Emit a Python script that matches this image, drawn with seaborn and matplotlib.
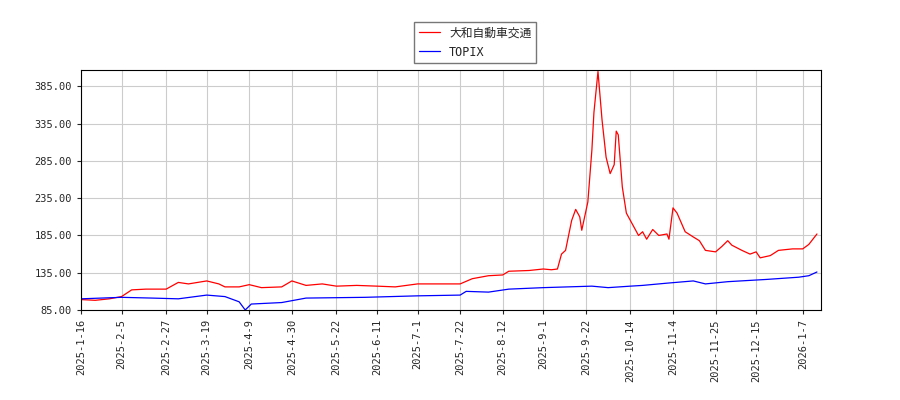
import pandas as pd
import matplotlib
matplotlib.use('Agg')
import matplotlib.pyplot as plt
import seaborn as sns

# 大和自動車交通
red_dates = ['2025-01-16', '2025-01-23', '2025-01-30', '2025-02-05', '2025-02-10', '2025-02-17',
             '2025-02-27', '2025-03-05', '2025-03-10', '2025-03-19', '2025-03-25', '2025-03-28',
             '2025-04-04', '2025-04-09', '2025-04-15', '2025-04-25', '2025-04-30', '2025-05-07',
             '2025-05-15', '2025-05-22', '2025-06-01', '2025-06-11', '2025-06-20', '2025-07-01',
             '2025-07-10', '2025-07-22', '2025-07-28', '2025-08-05', '2025-08-12', '2025-08-15',
             '2025-08-25', '2025-09-01', '2025-09-05', '2025-09-08', '2025-09-10', '2025-09-12',
             '2025-09-15', '2025-09-17', '2025-09-19', '2025-09-20', '2025-09-23', '2025-09-25',
             '2025-09-26', '2025-09-28', '2025-09-30', '2025-10-02', '2025-10-04', '2025-10-06',
             '2025-10-07', '2025-10-08', '2025-10-10', '2025-10-12', '2025-10-15', '2025-10-18',
             '2025-10-20', '2025-10-22', '2025-10-25', '2025-10-28', '2025-11-01', '2025-11-02',
             '2025-11-04', '2025-11-06', '2025-11-10', '2025-11-14', '2025-11-17', '2025-11-20',
             '2025-11-25', '2025-11-28', '2025-12-01', '2025-12-03', '2025-12-08', '2025-12-12',
             '2025-12-15', '2025-12-17', '2025-12-22', '2025-12-26', '2026-01-02', '2026-01-07',
             '2026-01-10', '2026-01-14']
red_values = [99, 98, 100, 103, 112, 113, 113, 122, 120, 124, 120, 116, 116, 119, 115, 116, 124, 118,
              120, 117, 118, 117, 116, 120, 120, 120, 127, 131, 132, 137, 138, 140, 139, 140, 160, 165,
              205, 220, 210, 192, 230, 300, 350, 405, 340, 290, 268, 280, 325, 320, 250, 215, 200, 185,
              190, 180, 193, 185, 187, 180, 222, 215, 190, 183, 178, 165, 163, 170, 178, 172, 165, 160,
              163, 155, 158, 165, 167, 167, 173, 187]

# TOPIX
blue_dates = ['2025-01-16', '2025-02-05', '2025-02-20', '2025-03-05', '2025-03-19', '2025-03-28',
              '2025-04-04', '2025-04-07', '2025-04-10', '2025-04-25', '2025-05-07', '2025-06-05',
              '2025-07-01', '2025-07-22', '2025-07-25', '2025-08-05', '2025-08-15', '2025-09-01',
              '2025-09-25', '2025-10-03', '2025-10-14', '2025-10-20', '2025-11-01', '2025-11-14',
              '2025-11-20', '2025-12-01', '2025-12-20', '2026-01-05', '2026-01-10', '2026-01-14']
blue_values = [100, 102, 101, 100, 105, 103, 96, 85, 93, 95, 101, 102, 104, 105, 110, 109, 113, 115,
               117, 115, 117, 118, 121, 124, 120, 123, 126, 129, 131, 136]

tick_labels = ['2025-1-16', '2025-2-5', '2025-2-27', '2025-3-19', '2025-4-9', '2025-4-30', '2025-5-22',
               '2025-6-11', '2025-7-1', '2025-7-22', '2025-8-12', '2025-9-1', '2025-9-22', '2025-10-14',
               '2025-11-4', '2025-11-25', '2025-12-15', '2026-1-7']

red = pd.DataFrame({'date': pd.to_datetime(red_dates), 'value': red_values})
blue = pd.DataFrame({'date': pd.to_datetime(blue_dates), 'value': blue_values})

sns.set_style('white')
plt.rcParams['font.family'] = ['DejaVu Sans Mono', 'Noto Sans CJK JP']

fig = plt.figure(figsize=(9, 4), dpi=100)
ax = fig.add_axes([81 / 900, 90 / 400, 740 / 900, 240 / 400])
sns.lineplot(data=red, x='date', y='value', color='red', linewidth=0.9, label='大和自動車交通', ax=ax)
sns.lineplot(data=blue, x='date', y='value', color='blue', linewidth=0.9, label='TOPIX', ax=ax)

ticks = pd.to_datetime(tick_labels)
ax.set_xticks(ticks)
ax.set_xticklabels(tick_labels, rotation=90, fontsize=7.5)
ax.set_xlim(pd.Timestamp('2025-01-16'), pd.Timestamp('2026-01-16'))
ax.set_ylim(85, 407)
ax.set_yticks([85, 135, 185, 235, 285, 335, 385])
ax.set_yticklabels([f'{v:.2f}' for v in [85, 135, 185, 235, 285, 335, 385]], fontsize=7.5)
ax.grid(True, color='#cccccc', linewidth=0.8)
ax.set_xlabel('')
ax.set_ylabel('')
ax.tick_params(length=3, direction='out', bottom=True, left=True)
for s in ax.spines.values():
    s.set_color('black')
    s.set_linewidth(0.8)

ax.legend(loc='upper center', bbox_to_anchor=(394 / 740, 1.225), fontsize=8.5, frameon=True,
          fancybox=False, edgecolor='#555555', borderpad=0.4, handlelength=1.8)

fig.savefig('out.png', dpi=100)
